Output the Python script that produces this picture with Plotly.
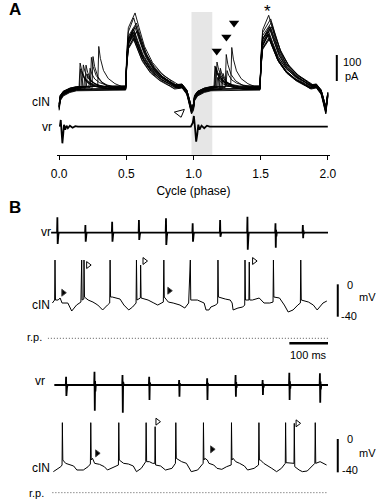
import plotly.graph_objects as go

W, H = 387, 500
FONT = "Liberation Sans, Arial, Helvetica, sans-serif"

# ================= Panel A : phase-aligned cIN currents =================
A_TICKS = [0.0, 0.5, 1.0, 1.5, 2.0]
A_TICK_TEXT = ["0.0", "0.5", "1.0", "1.5", "2.0"]

# per-sweep values (pA relative to baseline, phase units)
A_BASE_OFFSET = [0, 4, -4, 2, -6, 6, -2, 8, -8, 3, -3, 5, -5, 1, -1, 7]
A_EV1_PHASE = [0.156, 0.18, 0.20, 0.24, 0.252, 0.295, 0.17, 0.0, 0.0, 0.21, 0.0, 0.16, 0.0, 0.19, 0.0, 0.23]
A_EV1_AMP = [96, 85, 92, 116, 127, 154, 62, 0, 0, 50, 0, 69, 0, 38, 0, 69]
A_PK1_PHASE = [0.555, 0.565, 0.575, 0.565, 0.58, 0.585, 0.55, 0.545, 0.55, 0.555, 0.56, 0.55, 0.545, 0.57, 0.56, 0.555]
A_PK1_AMP = [270, 285, 254, 231, 223, 215, 216, 204, 200, 212, 192, 223, 208, 239, 196, 219]
A_EV2_PHASE = [1.16, 1.175, 1.20, 1.244, 1.22, 1.285, 0.0, 1.17, 0.0, 1.19, 0.0, 1.165, 1.21, 1.18, 0.0, 1.25]
A_EV2_AMP = [85, 96, 80, 127, 62, 150, 0, 70, 0, 55, 0, 75, 45, 40, 0, 60]
A_PK2_PHASE = [1.56, 1.575, 1.565, 1.58, 1.56, 1.585, 1.555, 1.56, 1.565, 1.57, 1.555, 1.56, 1.56, 1.57, 1.565, 1.575]
A_PK2_AMP = [280, 262, 240, 250, 215, 230, 208, 200, 196, 220, 205, 212, 198, 235, 192, 225]
A_TROUGH = [85, 80, 88, 82, 90, 78, 86, 84, 92, 86, 83, 88, 85, 87, 84, 81]

# waveform shapes (phase offsets, fraction of amplitude)
REC_DT = [0.0, 0.015, 0.023, 0.045, 0.095, 0.145]
REC_FRAC = [1.0, 0.85, 0.45, 0.25, 0.10, 0.03]
EV_DT = [-0.008, 0.0, 0.012, 0.035, 0.07, 0.12, 0.17]
EV_FRAC = [0.0, 1.0, 0.70, 0.40, 0.20, 0.07, 0.0]
RISE_PH = [0.495, 0.503, 0.515]
RISE_FRAC = [0.0, 0.45, 0.80]
DEC_DT = [0.0, 0.03, 0.07, 0.13, 0.20, 0.27, 0.31]
DEC_FRAC = [1.0, 0.80, 0.55, 0.33, 0.18, 0.08, 0.02]
TR_DT = [-0.07, -0.05, -0.035, -0.025, -0.015, 0.0]
TR_FRAC = [-0.09, 0.05, 0.18, 0.40, 0.70, 1.0]
TROUGH_PH = 0.985
END_FRAC = 0.3

# ventral root (vr) in panel A: phase, a.u.
A_VR_PHASE = [0.005, 0.012, 0.018, 0.024, 0.03, 0.036, 0.045, 0.055, 0.065, 0.08, 0.10, 0.12, 0.14,
              0.98, 0.995, 1.003, 1.012, 1.02, 1.028, 1.036, 1.045, 1.06, 1.08, 1.10, 1.12, 2.0]
A_VR_VAL = [0, 6.7, -5, -16.6, -8, 2, -3, 1, -1.5, 1, -1, 0.5, 0,
            0, 4, 10.7, -2, -15, -8, 2, -3, 1, -1.5, 1, 0, 0]

A_FILLED_PH = [1.173, 1.245, 1.302]
A_FILLED_PA = [142, 196, 250]
A_OPEN_PH = [0.899]
A_OPEN_PA = [-96]
A_STAR = (1.554, 296)
A_BAND = (0.985, 1.14)

# ================= Panel B : intracellular recordings =================
B1_CIN_T = [0, 5.8, 6.8, 8.0, 15, 20, 25, 40, 50, 62.5, 73.8, 75.8, 77, 81.3, 81.8, 83, 92.5, 105, 117.5,
            130, 142.5, 148.3, 149.3, 150.5, 155, 175, 185, 197.5, 207.5, 216.5, 217.5, 218.8, 227.5,
            228.3, 229.5, 247.5, 262.5, 272.5, 287, 288.3, 289.5, 300, 312.5, 330, 342.5, 352.5, 356.8,
            358, 375, 387.5, 392.5, 397.5, 405, 410, 422.5, 427.5, 428.3, 429.5, 447.5, 460, 465, 467.5,
            480, 492.5, 497.5, 498.3, 499.5, 508.3, 509.3, 510.5, 517.5, 535, 547.5, 562.5, 570.8, 571.8,
            573, 587.5, 600, 610, 622.5, 635, 641.5, 642.5, 643.8, 662.5, 675, 685, 700, 710]
B1_CIN_V = [-23.1, -19.4, 30.0, -19.4, -19.4, -16.9, -23.1, -23.1, -33.0, -25.6, -21.9, 30.0, -19.4, -18.2,
            30.0, -15.7, -19.4, -21.9, -25.6, -31.7, -25.6, -23.1, 30.0, -15.7, -15.7, -18.2, -25.6,
            -31.7, -28.0, -23.1, 30.0, -19.4, -16.9, 23.8, -16.9, -19.4, -23.1, -25.6, -21.9, 30.0,
            -15.7, -21.9, -23.1, -25.6, -29.3, -23.1, 30.0, -19.4, -19.4, -21.9, -23.1, -31.7, -31.7,
            -28.0, -25.6, -23.1, 30.0, -15.7, -18.2, -19.4, -23.1, -31.7, -29.3, -28.0, -25.6, 30.0,
            -19.4, -19.4, 27.5, -19.4, -19.4, -16.9, -23.1, -23.1, -21.9, 30.0, -15.7, -16.9, -25.6,
            -34.2, -31.7, -25.6, -23.1, 30.0, -19.4, -21.9, -25.6, -31.7, -23.1, -20.6]
B1_RP = -66.7

B1_VR_T = [13.3, 85.8, 155, 224.3, 294.3, 363.3, 434.3, 505, 577.5, 648.3]
B1_VR_UP = [15.4, 7.7, 11, 12.7, 14.4, 9.4, 12.7, 16, 9.4, 7.7]
B1_VR_DN = [-11.3, -9, -9, -7.3, -12.3, -9, -4, -17, -15, -5.6]
B1_VR_RANGE = (-3.3, 713)

B2_CIN_T = [2.5, 13.3, 21.8, 25, 25.8, 27, 34.3, 42.5, 55, 63.3, 80, 92.5, 98.3, 99.3, 100.5, 103.8, 109.3,
            121.8, 134.3, 142.5, 159.3, 170.8, 171.8, 173, 184.3, 196.8, 209.3, 217.5, 230, 241.5, 242.5,
            243.8, 250.8, 259.3, 265, 265.8, 267, 280, 292.5, 309.3, 318.3, 319.3, 320.5, 334.3, 346.8,
            359.3, 375.8, 388.3, 390, 390.8, 392, 394.3, 400.8, 405, 417.5, 425.8, 438.3, 450.8, 462.5,
            463.3, 464.5, 467.5, 474.3, 484.3, 496.8, 505, 521.8, 533.3, 534.3, 535.5, 538.3, 546.8, 555,
            567.5, 580, 592.5, 602.5, 603.3, 604.5, 609.3, 617.5, 625, 625.8, 627, 638.3, 646.8, 659.3,
            671.8, 679, 680, 681.3, 692.5, 700.8, 709.3]
B2_CIN_V = [-39.2, -36.4, -33.2, -31.2, 19.6, -25.2, -29.2, -30.4, -32.4, -37.2, -37.2, -33.2, -30.0, 19.6,
            -25.2, -23.2, -29.2, -30.4, -33.2, -37.2, -34.0, -31.2, 19.6, -25.2, -29.2, -30.0, -32.4,
            -39.2, -35.2, -27.2, 19.6, -27.2, -27.2, -29.2, -29.2, 14.8, -31.2, -32.4, -37.2, -35.2,
            -29.2, 19.6, -23.2, -27.2, -29.2, -39.2, -37.2, -31.2, -29.2, 19.6, -25.2, -23.2, -25.2,
            -29.2, -31.2, -35.2, -36.4, -33.2, -31.2, 19.6, -25.2, -23.2, -27.2, -29.2, -32.4, -37.2,
            -35.2, -31.2, 19.6, -25.2, -25.2, -29.2, -31.2, -35.2, -39.2, -35.2, -29.2, 19.6, -28.4,
            -28.4, -29.2, -29.2, 18.8, -33.2, -37.2, -39.2, -38.4, -33.2, -29.2, 19.6, -29.2, -27.2,
            -29.2, -31.2]
B2_RP = -64.4

B2_VR_T = [35.8, 109.3, 181.8, 250.8, 328.3, 400.8, 474.3, 544.3, 613.3, 692.5]
B2_VR_UP = [8.3, 13.3, 10, 8.3, 5, 6.7, 10, 5, 12.3, 11.7]
B2_VR_DN = [-11, -25.7, -27.7, -15, -11.7, -15, -11.7, -10, -15, -17.7]
B2_VR_RANGE = (5, 713)

B1_FILLED_T, B1_FILLED_V = [28.3, 302.5], [-10.4, -7.9]
B1_OPEN_T, B1_OPEN_V = [92.5, 238.3, 521.8], [23.8, 28.8, 28.8]
B2_FILLED_T, B2_FILLED_V = [115.8, 413.3], [-17.2, -12.4]
B2_OPEN_T, B2_OPEN_V = [271.8, 634.3], [20.8, 18.8]

TIME_BAR_MS = 100
MV_BAR = (0, -40)
PA_BAR = 100


def px(x):
    return x / W


def py(y):
    return 1 - y / H


def sweep(i):
    o = A_BASE_OFFSET[i]
    d = A_TROUGH[i]
    ph, val = [], []
    for dt, f in zip(REC_DT, REC_FRAC):
        p = -0.015 + dt
        if p >= 0:
            ph.append(p); val.append(o - f * d)
    for c, (ep, ea, pp, pa) in enumerate([
            (A_EV1_PHASE[i], A_EV1_AMP[i], A_PK1_PHASE[i], A_PK1_AMP[i]),
            (A_EV2_PHASE[i], A_EV2_AMP[i], A_PK2_PHASE[i], A_PK2_AMP[i])]):
        if ea > 0:
            for dt, f in zip(EV_DT, EV_FRAC):
                ph.append(ep + dt); val.append(o + f * ea)
        for r, f in zip(RISE_PH, RISE_FRAC):
            ph.append(c + r); val.append(o + f * pa)
        for dt, f in zip(DEC_DT, DEC_FRAC):
            ph.append(pp + dt); val.append(o + f * pa)
        for dt, f in zip(TR_DT, TR_FRAC):
            ph.append(c + TROUGH_PH + dt); val.append(o - f * d)
        if c == 0:
            for dt, f in zip(REC_DT[1:], REC_FRAC[1:]):
                ph.append(c + TROUGH_PH + dt); val.append(o - f * d)
    ph.append(2.0); val.append(o - END_FRAC * d)
    return ph, val


def vr_trace(times, ups, dns, rng):
    t, v = [rng[0]], [0]
    for tt, u, dd in zip(times, ups, dns):
        t += [tt - 1.2, tt - 0.4, tt + 0.4, tt + 1.2, tt + 2.0, tt + 3.0]
        v += [0, u, dd, 0.3 * u, 0.25 * dd, 0]
    t.append(rng[1]); v.append(0)
    return t, v


fig = go.Figure()

# ---- panel A traces
for i in range(len(A_PK1_AMP)):
    ph, val = sweep(i)
    fig.add_trace(go.Scatter(x=ph, y=val, mode="lines", line=dict(color="black", width=0.9),
                             xaxis="x", yaxis="y", hoverinfo="skip"))
fig.add_trace(go.Scatter(x=A_VR_PHASE, y=A_VR_VAL, mode="lines", line=dict(color="black", width=1.8),
                         xaxis="x", yaxis="y2", hoverinfo="skip"))
fig.add_trace(go.Scatter(x=A_FILLED_PH, y=A_FILLED_PA, mode="markers",
                         marker=dict(symbol="triangle-down", size=9, color="black"),
                         xaxis="x", yaxis="y", hoverinfo="skip"))
fig.add_trace(go.Scatter(x=A_OPEN_PH, y=A_OPEN_PA, mode="markers",
                         marker=dict(symbol="triangle-down-open", size=9, color="black", angle=-15,
                                     line=dict(width=1)),
                         xaxis="x", yaxis="y", hoverinfo="skip"))

# ---- panel B traces
for (t, v), ya in [(vr_trace(B1_VR_T, B1_VR_UP, B1_VR_DN, B1_VR_RANGE), "y3"),
                   (vr_trace(B2_VR_T, B2_VR_UP, B2_VR_DN, B2_VR_RANGE), "y5")]:
    fig.add_trace(go.Scatter(x=t, y=v, mode="lines", line=dict(color="black", width=1.8),
                             xaxis="x2", yaxis=ya, hoverinfo="skip"))
for t, v, ya in [(B1_CIN_T, B1_CIN_V, "y4"), (B2_CIN_T, B2_CIN_V, "y6")]:
    fig.add_trace(go.Scatter(x=t, y=v, mode="lines", line=dict(color="black", width=1),
                             xaxis="x2", yaxis=ya, hoverinfo="skip"))
for x0, x1, rp, ya in [(-11.75, 713, B1_RP, "y4"), (0, 709, B2_RP, "y6")]:
    fig.add_trace(go.Scatter(x=[x0, x1], y=[rp, rp], mode="lines",
                             line=dict(color="#555555", width=1, dash="1px,2px"),
                             xaxis="x2", yaxis=ya, hoverinfo="skip"))
for tt, vv, ya, sym in [(B1_FILLED_T, B1_FILLED_V, "y4", "triangle-right"),
                        (B1_OPEN_T, B1_OPEN_V, "y4", "triangle-right-open"),
                        (B2_FILLED_T, B2_FILLED_V, "y6", "triangle-right"),
                        (B2_OPEN_T, B2_OPEN_V, "y6", "triangle-right-open")]:
    fig.add_trace(go.Scatter(x=tt, y=vv, mode="markers",
                             marker=dict(symbol=sym, size=6, color="black", line=dict(width=1)),
                             xaxis="x2", yaxis=ya, hoverinfo="skip"))

# ---- shapes
shapes = [
    dict(type="rect", xref="x", yref="paper", x0=A_BAND[0], x1=A_BAND[1], y0=py(155), y1=py(12),
         fillcolor="#e6e6e6", line=dict(width=0), layer="below"),
    dict(type="line", xref="paper", yref="y", x0=px(342.3), x1=px(342.3), y0=27, y1=27 + PA_BAR,
         line=dict(color="black", width=2)),
    dict(type="line", xref="paper", yref="y4", x0=px(343.3), x1=px(343.3), y0=MV_BAR[0], y1=MV_BAR[1],
         line=dict(color="black", width=2)),
    dict(type="line", xref="paper", yref="y6", x0=px(343.3), x1=px(343.3), y0=MV_BAR[0], y1=MV_BAR[1],
         line=dict(color="black", width=2)),
    dict(type="line", xref="x2", yref="paper", x0=613, x1=613 + TIME_BAR_MS, y0=py(343.3), y1=py(343.3),
         line=dict(color="black", width=2.5)),
]


def ann(text, x, y, size=12, xanchor="center", bold=False):
    return dict(text=f"<b>{text}</b>" if bold else text, x=px(x), y=py(y), xref="paper", yref="paper",
                xanchor=xanchor, yanchor="middle", showarrow=False,
                font=dict(family=FONT, size=size, color="black"))


annotations = [
    ann("A", 9, 9, 17, bold=True),
    ann("B", 9, 208, 17, bold=True),
    ann("cIN", 47.5, 101.5, 12, "right"),
    ann("vr", 50, 127, 12, "right"),
    ann("100", 347, 62, 11, "left"),
    ann("pA", 349, 76, 11, "left"),
    ann("vr", 49, 231.5, 12, "right"),
    ann("cIN", 47.5, 305, 12, "right"),
    ann("r.p.", 29.5, 337, 11),
    ann("0", 355.5, 284.5, 11),
    ann("mV", 374.5, 297, 11),
    ann("-40", 355, 316, 11),
    ann("100 ms", 313.5, 355, 11),
    ann("vr", 42, 381, 12, "right"),
    ann("cIN", 48, 468, 12, "right"),
    ann("r.p.", 31.5, 493, 11),
    ann("0", 356, 439, 11),
    ann("mV", 374.5, 452.5, 11),
    ann("-40", 356, 470, 11),
    dict(text="*", x=A_STAR[0], y=A_STAR[1], xref="x", yref="y", showarrow=False,
         xanchor="center", yanchor="middle", font=dict(family=FONT, size=17, color="black")),
]

fig.update_layout(
    width=W, height=H, margin=dict(l=0, r=0, t=0, b=0),
    paper_bgcolor="white", plot_bgcolor="rgba(0,0,0,0)", showlegend=False,
    font=dict(family=FONT, size=12, color="black"),
    shapes=shapes, annotations=annotations,
    xaxis=dict(domain=[px(53), px(335)], range=[-0.0144, 2.0144], anchor="free", position=py(155),
               showline=True, linecolor="black", linewidth=1, ticks="outside", ticklen=4,
               tickcolor="black", tickwidth=1, tickvals=A_TICKS, ticktext=A_TICK_TEXT,
               showgrid=False, zeroline=False, ticklabelstandoff=4,
               tickfont=dict(family=FONT, size=12, color="black"),
               title=dict(text="Cycle (phase)", standoff=6, font=dict(family=FONT, size=12, color="black"))),
    yaxis=dict(domain=[py(122), 1.0], range=[(88 - 122) * 3.85, 88 * 3.85], visible=False, anchor="x"),
    yaxis2=dict(domain=[py(150), py(110)], range=[-23.3, 16.7], visible=False, anchor="x"),
    xaxis2=dict(domain=[px(43), px(334)], range=[-12.5, 715], visible=False, anchor="y3"),
    yaxis3=dict(domain=[py(256), py(212)], range=[-23.3, 20.7], visible=False, anchor="x2"),
    yaxis4=dict(domain=[py(345), py(250)], range=[-74.96, 42.4], visible=False, anchor="x2"),
    yaxis5=dict(domain=[py(418), py(365)], range=[-33, 20], visible=False, anchor="x2"),
    yaxis6=dict(domain=[0.0, py(415)], range=[-73.2, 28.8], visible=False, anchor="x2"),
)

fig.write_html("out.html", config={"displayModeBar": False, "staticPlot": True},
               post_script="document.body.style.margin='0';document.body.style.overflow='hidden';")
